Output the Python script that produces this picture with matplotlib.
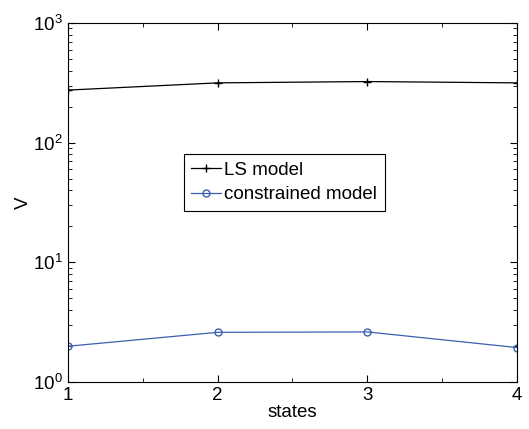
import matplotlib
matplotlib.use("Agg")
import matplotlib.pyplot as plt
from matplotlib.ticker import LogLocator, NullFormatter, FixedLocator

states = [1, 2, 3, 4]
ls_model = [275, 316, 324, 316]
constrained_model = [1.99, 2.60, 2.62, 1.94]

plt.rcParams['font.family'] = ['Liberation Sans', 'DejaVu Sans']
fig = plt.figure(figsize=(5.29, 4.29), dpi=100)
ax = fig.add_axes([0.1285, 0.1096, 0.8488, 0.8368])

ax.plot(states, ls_model, color='black', marker='+', markersize=6, linewidth=0.9, label='LS model')
ax.plot(states, constrained_model, color='#3a5fb0', marker='o', markersize=5, markerfacecolor='none',
        linewidth=0.9, label='constrained model')

ax.set_yscale('log')
ax.set_xlim(1, 4)
ax.set_ylim(1, 1000)
ax.set_xticks([1, 2, 3, 4])
ax.xaxis.set_minor_locator(FixedLocator([1.5, 2.5, 3.5]))
ax.yaxis.set_minor_locator(LogLocator(base=10, subs=range(2, 10)))
ax.yaxis.set_minor_formatter(NullFormatter())
ax.tick_params(which='both', direction='in', top=True, right=True, labelsize=13.5)
ax.tick_params(which='major', length=5)
ax.tick_params(which='minor', length=3)
ax.set_xlabel('states', fontsize=13.5, labelpad=0)
ax.set_ylabel('V', fontsize=13.5, labelpad=1)

leg = ax.legend(loc='upper left', bbox_to_anchor=(0.258, 0.635), fontsize=13.5, fancybox=False,
                edgecolor='black', framealpha=1, borderpad=0.4, handlelength=1.6, handletextpad=0.15,
                borderaxespad=0, labelspacing=0.4)
leg.get_frame().set_linewidth(0.8)

fig.savefig('out.png', dpi=100)
